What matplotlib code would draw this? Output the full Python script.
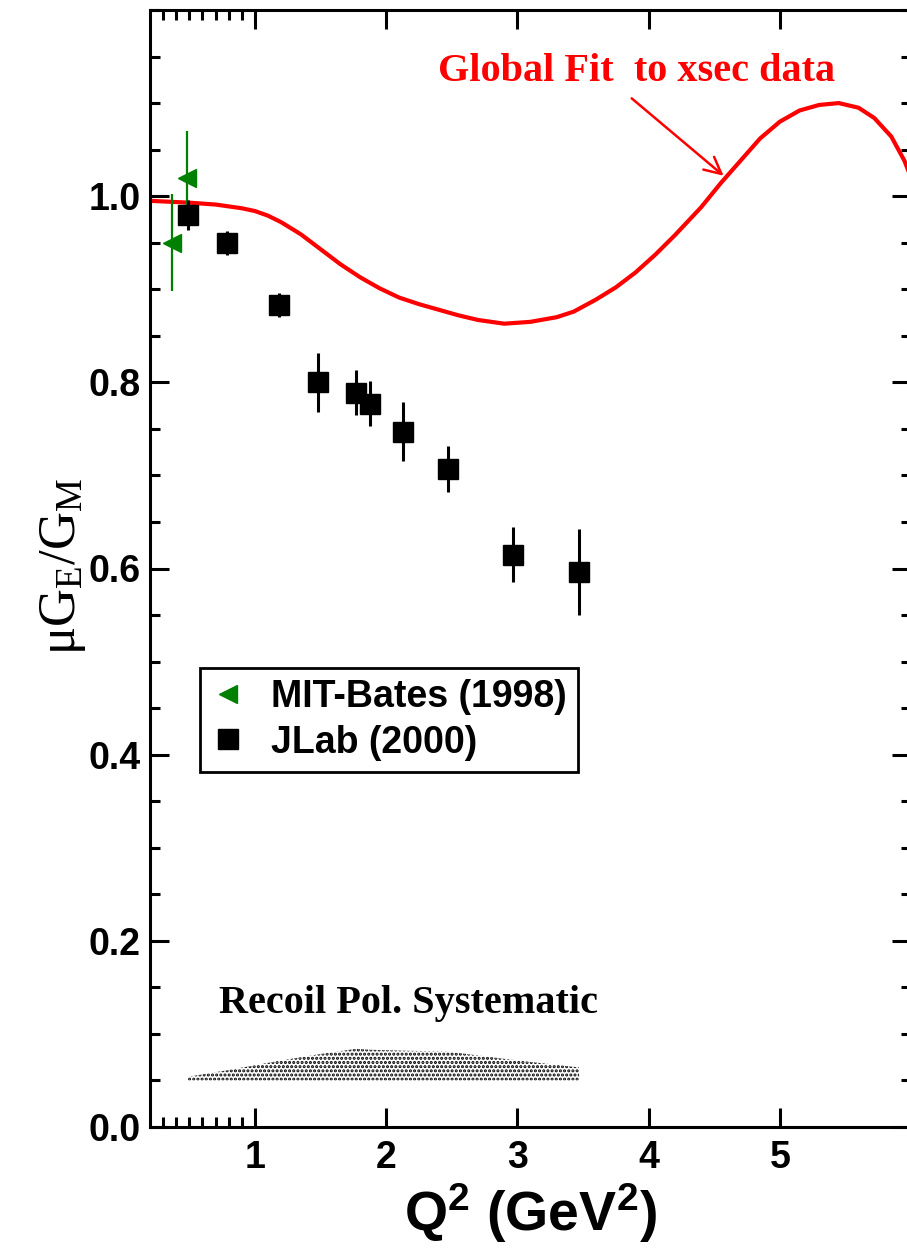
import numpy as np
import matplotlib
matplotlib.use("Agg")
import matplotlib.pyplot as plt
from matplotlib.ticker import FixedLocator, MultipleLocator
from matplotlib.lines import Line2D

plt.rcParams['mathtext.default'] = 'regular'
plt.rcParams['hatch.linewidth'] = 1.5

# JLab (2000) recoil polarization points
jlab_q2 = [0.49, 0.79, 1.18, 1.48, 1.77, 1.88, 2.13, 2.47, 2.97, 3.47]
jlab_ratio = [0.980, 0.950, 0.883, 0.800, 0.789, 0.777, 0.747, 0.707, 0.615, 0.596]
jlab_err = [0.016, 0.013, 0.013, 0.032, 0.024, 0.024, 0.032, 0.025, 0.030, 0.046]

# MIT-Bates (1998)
bates_q2 = [0.37, 0.48]
bates_ratio = [0.950, 1.020]
bates_err = [0.052, 0.050]

# global fit to cross section data
fit_q2 = [0.2, 0.35, 0.5, 0.6, 0.7, 0.8, 0.9, 1.0, 1.1, 1.2, 1.35, 1.5, 1.65, 1.8,
          1.95, 2.1, 2.25, 2.4, 2.55, 2.7, 2.9, 3.1, 3.3, 3.43, 3.6, 3.75, 3.9,
          4.05, 4.2, 4.4, 4.55, 4.7, 4.85, 5.0, 5.15, 5.3, 5.45, 5.6, 5.72, 5.85,
          5.95, 6.0]
fit_ratio = [0.995, 0.994, 0.993, 0.992, 0.991, 0.989, 0.987, 0.984, 0.979, 0.972,
             0.959, 0.943, 0.927, 0.913, 0.901, 0.891, 0.884, 0.878, 0.872, 0.867,
             0.863, 0.865, 0.870, 0.876, 0.889, 0.902, 0.918, 0.937, 0.958, 0.988,
             1.014, 1.038, 1.062, 1.080, 1.092, 1.098, 1.100, 1.095, 1.084, 1.064,
             1.038, 1.020]

# systematic band (drawn on a 0.05 baseline)
syst_q2 = [0.49, 0.79, 1.18, 1.48, 1.77, 1.88, 2.13, 2.47, 2.97, 3.47]
syst_err = [0.004, 0.011, 0.021, 0.028, 0.034, 0.033, 0.032, 0.031, 0.022, 0.014]
syst_base = 0.05

fig = plt.figure(figsize=(9.07, 12.53), dpi=100)
ax = fig.add_axes([150 / 907, 126 / 1253, 761 / 907, 1117 / 1253])

lab_font = dict(family='Liberation Sans', weight='bold')

# systematic band
base = np.full(len(syst_q2), syst_base)
ax.fill_between(syst_q2, base, base + np.array(syst_err), facecolor='white',
                edgecolor='black', hatch='....', linewidth=0, zorder=1)

# fit curve
ax.plot(fit_q2, fit_ratio, color='red', lw=3, zorder=2)

# data
ax.errorbar(bates_q2, bates_ratio, yerr=bates_err, fmt='<', color='green',
            ms=13, elinewidth=1.6, capsize=0, zorder=3)
ax.errorbar(jlab_q2, jlab_ratio, yerr=jlab_err, fmt='s', color='black',
            ms=15, elinewidth=2.2, capsize=0, zorder=4)

ax.set_xlim(0.2, 6.0)
ax.set_ylim(0.0, 1.2)

ax.xaxis.set_major_locator(FixedLocator([1, 2, 3, 4, 5, 6]))
ax.xaxis.set_minor_locator(FixedLocator([0.3, 0.4, 0.5, 0.6, 0.7, 0.8, 0.9]))
ax.set_xticklabels(['1', '2', '3', '4', '5', ''])
ax.yaxis.set_major_locator(FixedLocator([0.0, 0.2, 0.4, 0.6, 0.8, 1.0]))
ax.yaxis.set_minor_locator(MultipleLocator(0.05))
ax.set_yticklabels(['0.0', '0.2', '0.4', '0.6', '0.8', '1.0'])

ax.tick_params(which='both', direction='in', top=True, right=True, width=2.2)
ax.tick_params(which='major', length=14)
ax.tick_params(which='minor', length=7)
ax.tick_params(axis='x', pad=9)
ax.tick_params(axis='y', pad=7)
for lbl in ax.get_xticklabels() + ax.get_yticklabels():
    lbl.set_fontfamily('Liberation Sans')
    lbl.set_fontweight('bold')
    lbl.set_fontsize(27)
for sp in ax.spines.values():
    sp.set_linewidth(2.2)

ax.set_xlabel('Q$^{2}$ (GeV$^{2}$)', fontsize=40, labelpad=4, **lab_font)
ax.set_ylabel('μG$_{E}$/G$_{M}$', fontsize=38, family='Liberation Serif')
ax.yaxis.set_label_coords(-0.082, 0.502)

handles = [Line2D([], [], marker='<', color='green', ls='none', ms=13),
           Line2D([], [], marker='s', color='black', ls='none', ms=15)]
leg = ax.legend(handles, ['MIT-Bates (1998)', 'JLab (2000)'],
                loc='upper left', bbox_to_anchor=(0.0657, 0.411),
                prop=dict(family='Liberation Sans', weight='bold', size=27),
                frameon=True, fancybox=False, framealpha=1, edgecolor='black',
                handlelength=0.9, handletextpad=0.7, borderpad=0.3,
                labelspacing=0.25, borderaxespad=0)
leg.get_frame().set_linewidth(2)

ax.text(3.91, 1.134, 'Global Fit  to xsec data', color='red', fontsize=29,
        family='Liberation Serif', weight='bold', ha='center', va='center')
ax.annotate('', xy=(4.588, 1.020), xytext=(3.855, 1.107),
            arrowprops=dict(arrowstyle='->', color='red', lw=1.8,
                            mutation_scale=30))
ax.text(2.17, 0.133, 'Recoil Pol. Systematic', color='black', fontsize=29,
        family='Liberation Serif', weight='bold', ha='center', va='center')

fig.savefig('out.png', dpi=100)
